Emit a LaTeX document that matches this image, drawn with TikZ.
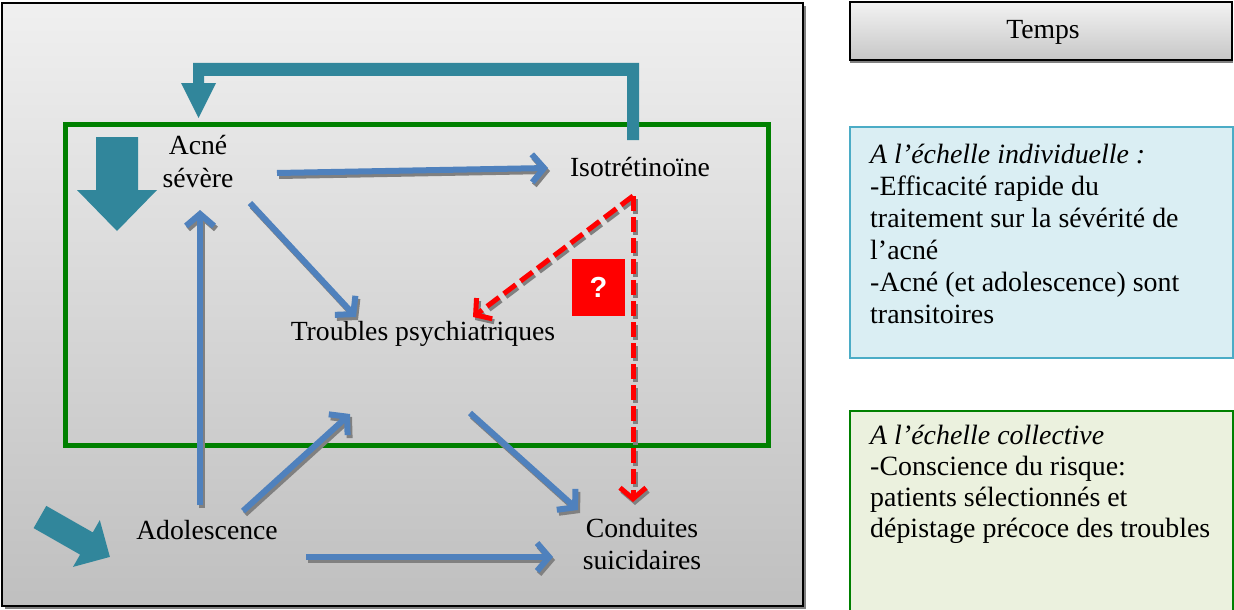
\documentclass[tikz,border=0pt]{standalone}
\usepackage{fontspec}
\setmainfont{Liberation Serif}
\newfontfamily\qfont{Liberation Sans}
\usetikzlibrary{arrows.meta}
\definecolor{teal1}{HTML}{31869B}
\definecolor{blue1}{HTML}{4F81BD}
\definecolor{shad}{HTML}{808080}
\definecolor{gframe}{HTML}{008000}
\definecolor{bluefill}{HTML}{DAEEF3}
\definecolor{blueedge}{HTML}{4BACC6}
\definecolor{greenfill}{HTML}{EBF1DE}
\tikzset{
  lbl/.style={inner sep=0pt, anchor=base, font=\fontsize{27.7}{32}\selectfont},
  rl/.style={inner sep=0pt, anchor=base west, font=\fontsize{27.9}{32}\selectfont},
  bl/.style={draw=blue1, line width=6pt, -{Straight Barb[length=12pt,width=28pt]}},
  bls/.style={draw=shad, line width=6pt, -{Straight Barb[length=12pt,width=28pt]}},
  rd/.style={draw=red, line width=5pt, dash pattern=on 15pt off 6pt, -{Straight Barb[length=11pt,width=26pt]}},
  rds/.style={draw=shad, line width=5pt, dash pattern=on 15pt off 6pt, -{Straight Barb[length=11pt,width=26pt]}},
}
\begin{document}
\begin{tikzpicture}[x=1pt,y=-1pt]
\useasboundingbox (0,0) rectangle (1234,610);
% outer frame
\fill[shad] (5,6) rectangle (806,609);
\shade[top color=black!6, bottom color=black!25, draw=black, line width=2pt] (2,3) rectangle (803,606);
% green frame
\draw[gframe, line width=5pt] (65.5,124) rectangle (768,445.5);
% teal top loop arrow
\fill[teal1] (627,140) -- (627,76) -- (204,76) -- (204,83) -- (216,83) -- (198.5,118) -- (181,83) -- (193,83) -- (193,63) -- (639,63) -- (639,140) -- cycle;
% teal down block arrow
\fill[teal1] (96,137) -- (138,137) -- (138,190) -- (157,190) -- (117,231) -- (77,190) -- (96,190) -- cycle;
% teal diagonal block arrow
\fill[teal1] (33.6,528.1) -- (46.3,505.9) -- (92.8,532.4) -- (99.8,520.1) -- (109.9,556.9) -- (73,566.9) -- (80.1,554.6) -- cycle;
% labels
\node[lbl] (acne1) at (198,154) {Acné};
\node[lbl] (acne2) at (198,187) {sévère};
\node[lbl] (iso) at (640,176) {Isotrétinoïne};
\node[lbl] (trb) at (423,340) {Troubles psychiatriques};
\node[lbl] (ado) at (207,539) {Adolescence};
\node[lbl] (cond1) at (642,537) {Conduites};
\node[lbl] (cond2) at (642,569) {suicidaires};
% arrow end coordinates
\coordinate (a1s) at (277,173); \coordinate (a1e) at (548,168);
\coordinate (a2s) at (250,203); \coordinate (a2e) at (356,317);
\coordinate (a3s) at (200,505); \coordinate (a3e) at (200,210);
\coordinate (a4s) at (243,511); \coordinate (a4e) at (350,414);
\coordinate (a5s) at (470,413); \coordinate (a5e) at (578,510);
\coordinate (a6s) at (306,557); \coordinate (a6e) at (553,557);
\coordinate (r0) at (633,196);
\coordinate (r1e) at (473,317);
\coordinate (r2e) at (633,502);
% blue arrows with shadow
\foreach \s/\e in {a1s/a1e,a2s/a2e,a3s/a3e,a4s/a4e,a5s/a5e,a6s/a6e}{
  \draw[bls] ([shift={(2,3)}]\s) -- ([shift={(2,3)}]\e);
  \draw[bl] (\s) -- (\e);
}
% red dashed arrows
\draw[rds] ([shift={(2,3)}]r0) -- ([shift={(2,3)}]r1e);
\draw[rd] (r0) -- (r1e);
\draw[rds] ([shift={(2,3)}]r0) -- ([shift={(2,3)}]r2e);
\draw[rd] (r0) -- (r2e);
% question box
\node[fill=red, minimum width=53pt, minimum height=57pt, inner sep=0pt, text=white, font=\qfont\bfseries\fontsize{29}{32}\selectfont] (q) at (598.5,287.5) {?};
% Temps box
\fill[shad] (850,6) rectangle (1233,63);
\shade[top color=black!5, bottom color=black!22, draw=black, line width=2pt] (850,2) rectangle (1232,60);
\node[lbl] (temps) at (1043,39) {Temps};
% individual box
\draw[fill=bluefill, draw=blueedge, line width=2pt] (850,127) rectangle (1233,358);
\node[rl] (i1) at (870,163) {\itshape A l’échelle individuelle :};
\node[rl] (i2) at (870,195) {-Efficacité rapide du};
\node[rl] (i3) at (870,227) {traitement sur la sévérité de};
\node[rl] (i4) at (870,259) {l’acné};
\node[rl] (i5) at (870,291) {-Acné (et adolescence) sont};
\node[rl] (i6) at (870,323) {transitoires};
% collective box
\draw[fill=greenfill, draw=gframe, line width=2pt] (850,411) rectangle (1233,612);
\node[rl] (c1) at (870,444) {\itshape A l’échelle collective};
\node[rl] (c2) at (870,475) {-Conscience du risque:};
\node[rl] (c3) at (870,506) {patients sélectionnés et};
\node[rl] (c4) at (870,537) {dépistage précoce des troubles};
\end{tikzpicture}
\end{document}
